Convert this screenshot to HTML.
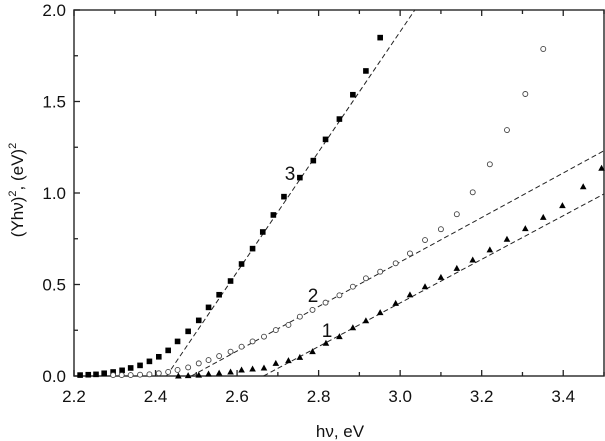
<!DOCTYPE html>
<html><head><meta charset="utf-8"><style>
html,body{margin:0;padding:0;background:#fff;width:605px;height:441px;overflow:hidden}
svg{display:block;font-family:"Liberation Sans",sans-serif}
</style></head><body>
<svg id="chart" width="605" height="441" xmlns="http://www.w3.org/2000/svg"></svg>
<script>
const xTicks=[2.2,2.4,2.6,2.8,3.0,3.2,3.4];
const xTickLabels=["2.2","2.4","2.6","2.8","3.0","3.2","3.4"];
const yTicks=[0,0.5,1.0,1.5,2.0];
const yTickLabels=["0.0","0.5","1.0","1.5","2.0"];
const s3x=[2.215,2.235,2.254,2.274,2.296,2.318,2.339,2.362,2.385,2.408,2.431,2.454,2.480,2.506,2.530,2.556,2.584,2.611,2.638,2.663,2.689,2.715,2.754,2.787,2.817,2.851,2.884,2.916,2.951];
const s3y=[0.005,0.007,0.009,0.015,0.022,0.031,0.044,0.058,0.080,0.105,0.140,0.189,0.244,0.304,0.375,0.444,0.519,0.612,0.696,0.787,0.880,0.980,1.084,1.177,1.293,1.404,1.537,1.667,1.849];
const s2x=[2.296,2.317,2.339,2.362,2.385,2.408,2.431,2.454,2.480,2.506,2.530,2.556,2.584,2.611,2.638,2.666,2.695,2.726,2.754,2.785,2.817,2.851,2.884,2.916,2.951,2.989,3.024,3.061,3.100,3.139,3.178,3.220,3.262,3.307,3.351];
const s2y=[0.005,0.005,0.005,0.007,0.009,0.015,0.022,0.033,0.047,0.069,0.087,0.109,0.133,0.160,0.189,0.215,0.251,0.279,0.324,0.361,0.401,0.441,0.488,0.534,0.570,0.616,0.670,0.743,0.802,0.884,1.004,1.157,1.344,1.541,1.787];
const s1x=[2.456,2.480,2.506,2.530,2.556,2.584,2.611,2.638,2.666,2.695,2.726,2.754,2.785,2.818,2.851,2.884,2.916,2.951,2.989,3.024,3.061,3.100,3.139,3.178,3.220,3.262,3.307,3.351,3.398,3.449,3.494];
const s1y=[0.000,0.002,0.005,0.011,0.016,0.022,0.033,0.038,0.044,0.069,0.084,0.102,0.133,0.179,0.215,0.264,0.302,0.346,0.397,0.443,0.488,0.539,0.588,0.634,0.689,0.747,0.805,0.867,0.931,1.034,1.135];
const fit3=[[2.427,0],[3.036,2.0]];
const fit2=[[2.488,0],[3.5,1.231]];
const fit1=[[2.665,0],[3.5,0.995]];

const L=74,R=604,T=10,B=376;
const X=v=>L+(v-2.2)/(3.5-2.2)*(R-L);
const Y=v=>B-(v/2.0)*(B-T);
const svg=document.getElementById('chart');
const NS='http://www.w3.org/2000/svg';
function mk(tag,attrs,parent){const e=document.createElementNS(NS,tag);for(const k in attrs)e.setAttribute(k,attrs[k]);(parent||svg).appendChild(e);return e;}

const frame=mk('rect',{x:L,y:T,width:R-L,height:B-T,fill:'none',stroke:'#333','stroke-width':1.5});



const ticks=mk('g',{stroke:'#222','stroke-width':1.3});


for(let v=2.2;v<=3.5001;v+=0.1){
  const major=Math.abs(((v-2.2)/0.2)-Math.round((v-2.2)/0.2))<0.01;
  const len=major?6:4;const x=X(v);
  mk('line',{x1:x,y1:B,x2:x,y2:B-len},ticks);
  mk('line',{x1:x,y1:T,x2:x,y2:T+len},ticks);
}
for(let v=0;v<=2.0001;v+=0.25){
  const major=Math.abs(v*2-Math.round(v*2))<0.01;
  const len=major?6:4;const y=Y(v);
  mk('line',{x1:L,y1:y,x2:L+len,y2:y},ticks);
}
xTicks.forEach((v,i)=>{
  const t=mk('text',{x:X(v),y:402,'text-anchor':'middle','font-size':17,fill:'#111'});
  t.textContent=xTickLabels[i];
  
  
});
yTicks.forEach((v,i)=>{
  const t=mk('text',{x:66,y:Y(v)+6,'text-anchor':'end','font-size':17,fill:'#111'});
  t.textContent=yTickLabels[i];
  
  
});
const xt=mk('text',{x:340,y:437,'text-anchor':'middle','font-size':17,fill:'#111'});
xt.textContent='hν, eV';


const yt=mk('text',{x:0,y:0,'text-anchor':'middle','font-size':17,fill:'#111',transform:'translate(23,190) rotate(-90)'});
yt.innerHTML='(Yhν)<tspan dy="-7" font-size="11">2</tspan><tspan dy="7">, (eV)</tspan><tspan dy="-7" font-size="11">2</tspan>';



[[fit3,'fit-line-3'],[fit2,'fit-line-2'],[fit1,'fit-line-1']].forEach(([f,n])=>{
  const l=mk('line',{x1:X(f[0][0]),y1:Y(f[0][1]),x2:X(f[1][0]),y2:Y(f[1][1]),stroke:'#222','stroke-width':1,'stroke-dasharray':'5,3'});
  
  
});

const g3=mk('g',{fill:'#000'});


s3x.forEach((v,i)=>{const r=mk('rect',{x:X(v)-2.8,y:Y(s3y[i])-2.8,width:5.6,height:5.6},g3);
  
  });
const g2=mk('g',{fill:'#fff',stroke:'#444','stroke-width':0.9});


s2x.forEach((v,i)=>{const c=mk('circle',{cx:X(v),cy:Y(s2y[i]),r:2.5},g2);
  
  });
const g1=mk('g',{fill:'#000'});


s1x.forEach((v,i)=>{const x=X(v),y=Y(s1y[i]);
  const p=mk('polygon',{points:`${x},${y-3.5} ${x-3.3},${y+2.5} ${x+3.3},${y+2.5}`},g1);
  
  });

[['3',290,180],['2',313,302],['1',327,337]].forEach(([s,x,y])=>{
  const t=mk('text',{x:x,y:y,'text-anchor':'middle','font-size':19,fill:'#111'});
  t.textContent=s;
  
  
});
</script>
</body></html>
